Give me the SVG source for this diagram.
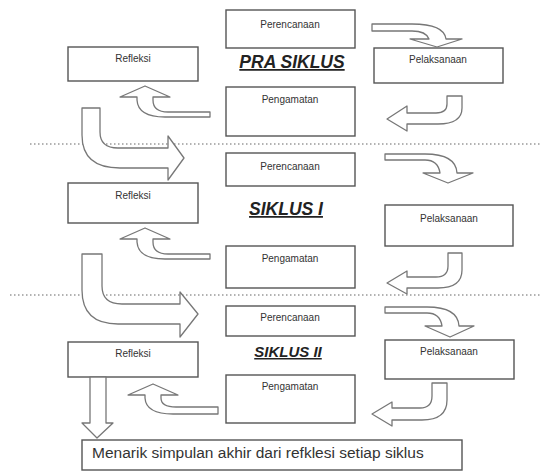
<svg xmlns="http://www.w3.org/2000/svg" width="540" height="472" viewBox="0 0 540 472">
<style>
.box{fill:#fff;stroke:#555;stroke-width:1.4}
.lbl{font-family:"Liberation Sans",Arial,sans-serif;font-size:10px;fill:#333;text-anchor:middle}
.ttl{font-family:"Liberation Sans",Arial,sans-serif;font-weight:bold;font-style:italic;text-decoration:underline;fill:#222;text-anchor:middle}
.arr{fill:#fff;stroke:#777;stroke-width:1.3;stroke-linejoin:round}
.dot{stroke:#999;stroke-width:1.5;stroke-dasharray:1.5 2.5;fill:none}
</style>
<rect width="540" height="472" fill="#fff"/>
<g id="separators">
<line class="dot" x1="30" y1="144" x2="540" y2="144"/>
<line class="dot" x1="10" y1="295" x2="540" y2="295"/>
</g>
<g id="titles">
<text class="ttl" x="292" y="68" font-size="17.5">PRA SIKLUS</text>
<text class="ttl" x="286" y="215" font-size="17.5">SIKLUS I</text>
<text class="ttl" x="288" y="357" font-size="15">SIKLUS II</text>
</g>
<g id="pra-perencanaan"><rect class="box" x="226" y="10" width="129" height="38"/><text class="lbl" x="290" y="28">Perencanaan</text></g>
<g id="pra-refleksi"><rect class="box" x="68" y="47" width="130" height="34"/><text class="lbl" x="133" y="62">Refleksi</text></g>
<g id="pra-pelaksanaan"><rect class="box" x="374" y="48" width="129" height="35"/><text class="lbl" x="438" y="63">Pelaksanaan</text></g>
<g id="pra-pengamatan"><rect class="box" x="226" y="87" width="129" height="49"/><text class="lbl" x="290" y="103">Pengamatan</text></g>
<g id="s1-perencanaan"><rect class="box" x="226" y="153" width="129" height="33"/><text class="lbl" x="290" y="170">Perencanaan</text></g>
<g id="s1-refleksi"><rect class="box" x="68" y="183" width="130" height="40"/><text class="lbl" x="133" y="199">Refleksi</text></g>
<g id="s1-pelaksanaan"><rect class="box" x="385" y="205" width="128" height="41"/><text class="lbl" x="449" y="222">Pelaksanaan</text></g>
<g id="s1-pengamatan"><rect class="box" x="226" y="246" width="129" height="42"/><text class="lbl" x="290" y="262">Pengamatan</text></g>
<g id="s2-perencanaan"><rect class="box" x="226" y="306" width="129" height="30"/><text class="lbl" x="290" y="321">Perencanaan</text></g>
<g id="s2-refleksi"><rect class="box" x="68" y="342" width="130" height="35"/><text class="lbl" x="133" y="357">Refleksi</text></g>
<g id="s2-pelaksanaan"><rect class="box" x="385" y="340" width="129" height="39"/><text class="lbl" x="449" y="355">Pelaksanaan</text></g>
<g id="s2-pengamatan"><rect class="box" x="226" y="375" width="129" height="48"/><text class="lbl" x="290" y="390">Pengamatan</text></g>
<g id="kesimpulan"><rect class="box" x="82" y="440" width="380" height="30"/><text x="92" y="458" font-family="Liberation Sans, Arial, sans-serif" font-size="15.5" fill="#333">Menarik simpulan akhir dari refklesi setiap siklus</text></g>
<g id="connectors">
<path class="arr" d="M372,24 L412,24 Q444,24 446,39 L462,39 L437,47 L410,39 L429,39 Q426,31 412,31 L372,31 Z"/>
<path class="arr" d="M447,96 L462,96 L462,108 Q462,124 438,124 L407,124 L407,131 L387,119 L407,106 L407,113 L436,113 Q447,113 447,104 Z"/>
<path class="arr" d="M210,112 L168,112 Q153,112 153,100 L153,97 L170,97 L145,86 L120,97 L137,97 L137,100 Q138,117 165,117 L210,117 Z"/>
<path class="arr" d="M82,108 L82,135 Q82,168 120,168 L168,168 L168,180 L184,158 L168,136 L168,148 L118,148 Q100,148 100,132 L100,108 Z"/>
<path class="arr" d="M385,154 L425,154 Q456,154 457,173 L473,173 L448,183 L423,173 L440,173 Q438,160 425,160 L385,160 Z"/>
<path class="arr" d="M448,253 L462,253 L462,270 Q462,288 438,288 L407,288 L407,294 L387,283 L407,271 L407,277 L436,277 Q448,277 448,266 Z"/>
<path class="arr" d="M210,254 L168,254 Q153,254 153,242 L153,239 L170,239 L145,228 L120,239 L137,239 L137,242 Q138,259 165,259 L210,259 Z"/>
<path class="arr" d="M82,254 L82,290 Q82,324 118,324 L180,324 L180,337 L198,314 L180,292 L180,304 L122,304 Q102,304 102,286 L102,254 Z"/>
<path class="arr" d="M385,307 L427,307 Q458,307 459,326 L474,326 L450,337 L425,326 L442,326 Q440,313 427,313 L385,313 Z"/>
<path class="arr" d="M432,383 L447,383 L447,400 Q447,420 422,420 L392,420 L392,426 L372,414 L392,402 L392,408 L420,408 Q432,408 432,396 Z"/>
<path class="arr" d="M218,407 L176,407 Q161,407 161,398 L161,395 L178,395 L153,384 L128,395 L145,395 L145,398 Q146,414 173,414 L218,414 Z"/>
<path class="arr" d="M90,377 L106,377 L106,423 L113,423 L97,438 L82,423 L90,423 Z"/>
</g>
</svg>
